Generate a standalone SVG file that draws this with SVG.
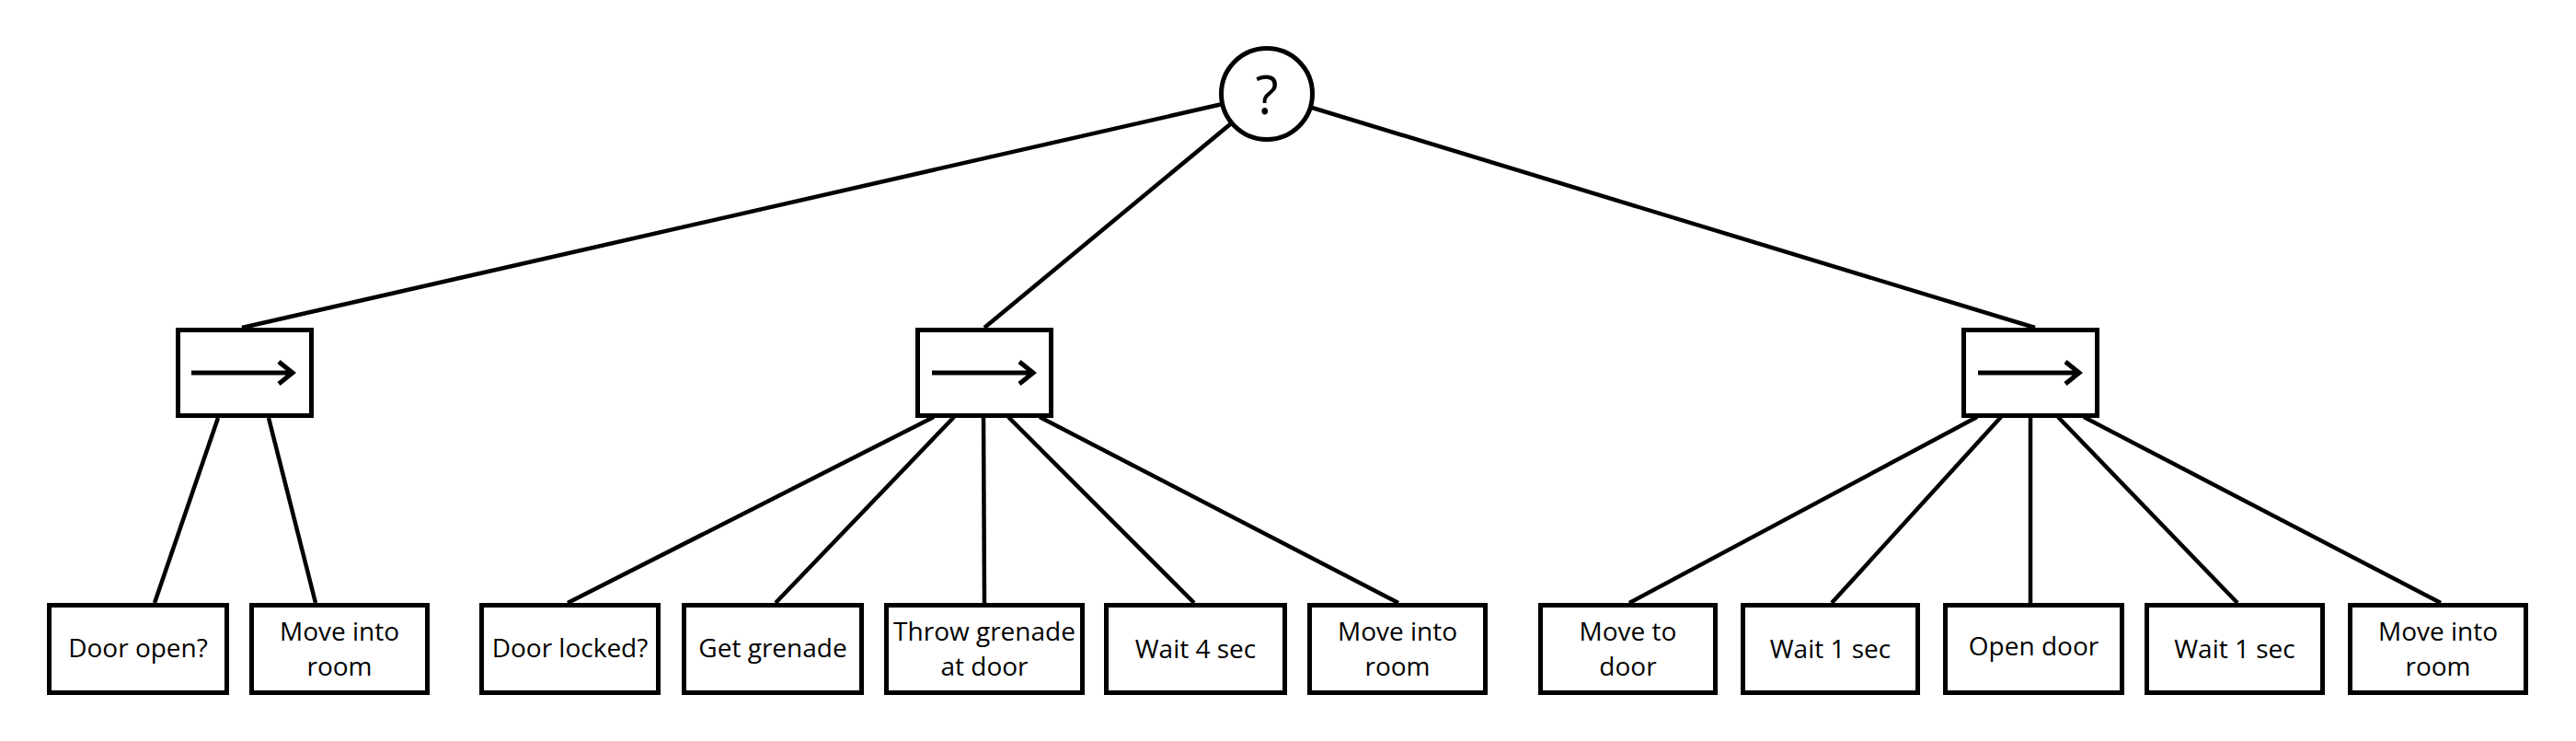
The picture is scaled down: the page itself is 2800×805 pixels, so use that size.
<svg xmlns="http://www.w3.org/2000/svg" width="2800" height="805" viewBox="0 0 2800 805">
<style>
.box{fill:#fff;stroke:#000;stroke-width:5}
.edge{stroke:#000;stroke-width:4.5;fill:none}
.arr{stroke:#000;stroke-width:5;fill:none}
.t{font-family:"Open Sans","Noto Sans",sans-serif;font-size:28px;fill:#000;text-anchor:middle}
.q{font-family:"Open Sans","Noto Sans",sans-serif;font-size:58px;fill:#000;text-anchor:middle}
</style>
<rect width="2800" height="805" fill="#fff"/>
<g id="connectors">
<line class="edge" x1="1377" y1="102" x2="263" y2="356"/>
<line class="edge" x1="1377" y1="102" x2="1070" y2="356"/>
<line class="edge" x1="1377" y1="102" x2="2212" y2="356"/>
<line class="edge" x1="237" y1="454" x2="168" y2="655"/>
<line class="edge" x1="292" y1="454" x2="343" y2="655"/>
<line class="edge" x1="1015" y1="453" x2="617" y2="655"/>
<line class="edge" x1="1037" y1="453" x2="843" y2="655"/>
<line class="edge" x1="1069" y1="453" x2="1070" y2="655"/>
<line class="edge" x1="1096" y1="453" x2="1298" y2="655"/>
<line class="edge" x1="1130" y1="453" x2="1520" y2="655"/>
<line class="edge" x1="2149" y1="453" x2="1771" y2="655"/>
<line class="edge" x1="2175" y1="453" x2="1991" y2="655"/>
<line class="edge" x1="2207" y1="453" x2="2207" y2="655"/>
<line class="edge" x1="2237" y1="453" x2="2432" y2="655"/>
<line class="edge" x1="2265" y1="453" x2="2653" y2="655"/>
</g>
<g id="selector">
<circle class="box" cx="1377" cy="102" r="49.5"/>
<text class="q" x="1377" y="124">?</text>
</g>
<g id="seq1">
<rect class="box" x="193.5" y="358.5" width="145" height="93"/>
<path class="arr" d="M208 405H318M303 393L318 405L303 417"/>
</g>
<g id="seq2">
<rect class="box" x="997.5" y="358.5" width="145" height="93"/>
<path class="arr" d="M1013 405H1123M1108 393L1123 405L1108 417"/>
</g>
<g id="seq3">
<rect class="box" x="2134.5" y="358.5" width="145" height="93"/>
<path class="arr" d="M2150 405H2260M2245 393L2260 405L2245 417"/>
</g>
<g id="leaf1"><rect class="box" x="53.5" y="657.5" width="193" height="95"/><text class="t" x="150" y="714">Door open?</text></g>
<g id="leaf2"><rect class="box" x="273.5" y="657.5" width="191" height="95"/><text class="t" x="369" y="696">Move into</text><text class="t" x="369" y="734">room</text></g>
<g id="leaf3"><rect class="box" x="523.5" y="657.5" width="192" height="95"/><text class="t" x="619.5" y="714">Door locked?</text></g>
<g id="leaf4"><rect class="box" x="743.5" y="657.5" width="193" height="95"/><text class="t" x="840" y="714">Get grenade</text></g>
<g id="leaf5"><rect class="box" x="963.5" y="657.5" width="213" height="95"/><text class="t" x="1070" y="696">Throw grenade</text><text class="t" x="1070" y="734">at door</text></g>
<g id="leaf6"><rect class="box" x="1202.5" y="657.5" width="194" height="95"/><text class="t" x="1299.5" y="715">Wait 4 sec</text></g>
<g id="leaf7"><rect class="box" x="1423.5" y="657.5" width="191" height="95"/><text class="t" x="1519" y="696">Move into</text><text class="t" x="1519" y="734">room</text></g>
<g id="leaf8"><rect class="box" x="1674.5" y="657.5" width="190" height="95"/><text class="t" x="1769.5" y="696">Move to</text><text class="t" x="1769.5" y="734">door</text></g>
<g id="leaf9"><rect class="box" x="1894.5" y="657.5" width="190" height="95"/><text class="t" x="1989.5" y="715">Wait 1 sec</text></g>
<g id="leaf10"><rect class="box" x="2114.5" y="657.5" width="192" height="95"/><text class="t" x="2210.5" y="712">Open door</text></g>
<g id="leaf11"><rect class="box" x="2333.5" y="657.5" width="191" height="95"/><text class="t" x="2429" y="715">Wait 1 sec</text></g>
<g id="leaf12"><rect class="box" x="2554.5" y="657.5" width="191" height="95"/><text class="t" x="2650" y="696">Move into</text><text class="t" x="2650" y="734">room</text></g>
</svg>
